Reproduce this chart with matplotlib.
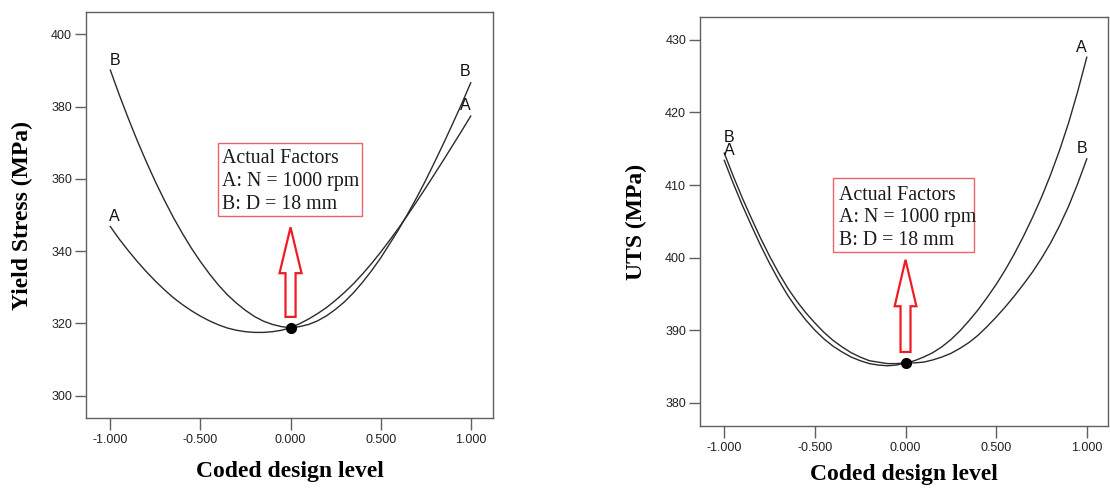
import matplotlib
matplotlib.use("Agg")
import matplotlib.pyplot as plt
from matplotlib.patches import FancyArrow, Rectangle

# ---------------- data ----------------
coded_level = [-1.00, -0.95, -0.90, -0.85, -0.80, -0.75, -0.70, -0.65, -0.60, -0.55,
               -0.50, -0.45, -0.40, -0.35, -0.30, -0.25, -0.20, -0.15, -0.10, -0.05,
               0.00, 0.05, 0.10, 0.15, 0.20, 0.25, 0.30, 0.35, 0.40, 0.45,
               0.50, 0.55, 0.60, 0.65, 0.70, 0.75, 0.80, 0.85, 0.90, 0.95, 1.00]

# Yield stress (MPa)
ys_A = [346.8, 343.3, 340.1, 337.1, 334.3, 331.7, 329.3, 327.1, 325.2, 323.5,
        322.0, 320.7, 319.6, 318.7, 318.1, 317.7, 317.5, 317.5, 317.7, 318.1,
        318.8, 319.9, 321.2, 322.7, 324.4, 326.4, 328.6, 331.0, 333.7, 336.6,
        339.7, 343.0, 346.4, 350.0, 353.7, 357.5, 361.4, 365.3, 369.3, 373.3, 377.4]
ys_B = [390.1, 383.2, 376.7, 370.5, 364.7, 359.2, 354.1, 349.3, 344.9, 340.8,
        337.1, 333.7, 330.6, 327.9, 325.6, 323.6, 321.9, 320.6, 319.7, 319.1,
        318.8, 319.1, 319.7, 320.7, 322.1, 323.9, 326.0, 328.5, 331.4, 334.6,
        338.1, 342.0, 346.0, 350.3, 354.8, 359.6, 364.7, 369.9, 375.3, 380.8, 386.6]

# UTS (MPa)
uts_A = [413.4, 410.2, 407.2, 404.4, 401.7, 399.2, 396.9, 394.8, 393.0, 391.4,
         390.0, 388.8, 387.8, 387.0, 386.3, 385.8, 385.4, 385.2, 385.1, 385.2,
         385.5, 385.8, 386.3, 386.9, 387.7, 388.7, 389.9, 391.3, 392.8, 394.5,
         396.3, 398.3, 400.5, 402.9, 405.5, 408.3, 411.4, 414.8, 418.6, 422.9, 427.6]
uts_B = [414.4, 411.2, 408.2, 405.4, 402.7, 400.2, 397.9, 395.8, 394.0, 392.4,
         391.0, 389.7, 388.6, 387.7, 386.9, 386.3, 385.8, 385.6, 385.4, 385.4,
         385.5, 385.5, 385.6, 385.9, 386.3, 386.8, 387.5, 388.3, 389.3, 390.5,
         391.8, 393.2, 394.7, 396.3, 398.0, 399.9, 402.0, 404.4, 407.1, 410.2, 413.6]

center_x = 0.0
ys_center = 318.8
uts_center = 385.5

x_ticks = [-1.0, -0.5, 0.0, 0.5, 1.0]
x_ticklabels = ["-1.000", "-0.500", "0.000", "0.500", "1.000"]
ys_ticks = [300, 320, 340, 360, 380, 400]
uts_ticks = [380, 390, 400, 410, 420, 430]

factor_text = "Actual Factors\nA: N = 1000 rpm\nB: D = 18 mm"

# ---------------- style ----------------
SERIF = ["Liberation Serif", "DejaVu Serif"]
SANS = ["Liberation Sans", "DejaVu Sans"]
LINE_C = "#2b2b2b"
FRAME_C = "#606060"
RED = "#ee1c24"
BOX_C = "#e8656a"
LBL = 11.5

fig = plt.figure(figsize=(11.10, 4.88), dpi=100)

def style_axes(ax, xlim, ylim, yticks):
    ax.set_xlim(*xlim)
    ax.set_ylim(*ylim)
    ax.set_xticks(x_ticks)
    ax.set_xticklabels(x_ticklabels)
    ax.set_yticks(yticks)
    for s in ax.spines.values():
        s.set_color(FRAME_C)
        s.set_linewidth(1.0)
    ax.tick_params(axis="both", direction="out", color=FRAME_C, width=1.0,
                   labelsize=9, labelcolor="#222222")
    ax.tick_params(axis="x", length=8.5, pad=3)
    ax.tick_params(axis="y", length=8, pad=2)
    ax.tick_params(top=False, right=False)
    for lab in ax.get_xticklabels() + ax.get_yticklabels():
        lab.set_family(SANS)

def draw_box(ax, x0, y0, x1, y1, tx, ty):
    ax.add_patch(Rectangle((x0, y0), x1 - x0, y1 - y0, transform=ax.transAxes,
                           fill=False, edgecolor=BOX_C, linewidth=1.0, zorder=4))
    ax.text(tx, ty, factor_text, transform=ax.transAxes, ha="left", va="top",
            family=SERIF, fontsize=14.3, color="#1a1a1a", linespacing=1.27, zorder=5)

def curve_label(ax, x, y, s):
    ax.text(x, y, s, family=SANS, fontsize=LBL, ha="center", va="center", color="#111111")

# ---------- left panel ----------
ax1 = fig.add_axes([0.0775, 0.1434, 0.3667, 0.832])
style_axes(ax1, (-1.135, 1.124), (293.8, 406.2), ys_ticks)
ax1.plot(coded_level, ys_A, color=LINE_C, lw=1.0)
ax1.plot(coded_level, ys_B, color=LINE_C, lw=1.0)
ax1.plot([center_x], [ys_center], "o", color="black", ms=7, zorder=6)
curve_label(ax1, coded_level[0] + 0.024, ys_B[0] + 2.8, "B")
curve_label(ax1, coded_level[0] + 0.024, ys_A[0] + 2.9, "A")
curve_label(ax1, coded_level[-1] - 0.032, ys_B[-1] + 3.0, "B")
curve_label(ax1, coded_level[-1] - 0.032, ys_A[-1] + 2.8, "A")
ax1.add_patch(FancyArrow(0.0, 321.8, 0.0, 24.8, width=0.056, head_width=0.122,
                         head_length=12.7, length_includes_head=True, fill=False,
                         edgecolor=RED, linewidth=1.6, zorder=5))
draw_box(ax1, 0.324, 0.4975, 0.678, 0.6766, 0.334, 0.662)
ax1.set_ylabel("Yield Stress (MPa)", family=SERIF, fontsize=17, fontweight="bold")
ax1.yaxis.set_label_coords(-0.130, 0.5)
ax1.set_xlabel("Coded design level", family=SERIF, fontsize=17, fontweight="bold")
ax1.xaxis.set_label_coords(0.5, -0.106)

# ---------- right panel ----------
ax2 = fig.add_axes([0.6306, 0.127, 0.3676, 0.8375])
style_axes(ax2, (-1.134, 1.117), (376.8, 433.1), uts_ticks)
ax2.plot(coded_level, uts_A, color=LINE_C, lw=1.0)
ax2.plot(coded_level, uts_B, color=LINE_C, lw=1.0)
ax2.plot([center_x], [uts_center], "o", color="black", ms=7, zorder=6)
curve_label(ax2, coded_level[0] + 0.028, uts_B[0] + 2.2, "B")
curve_label(ax2, coded_level[0] + 0.028, uts_A[0] + 1.4, "A")
curve_label(ax2, coded_level[-1] - 0.028, uts_A[-1] + 1.4, "A")
curve_label(ax2, coded_level[-1] - 0.028, uts_B[-1] + 1.4, "B")
ax2.add_patch(FancyArrow(0.0, 387.0, 0.0, 12.7, width=0.055, head_width=0.12,
                         head_length=6.4, length_includes_head=True, fill=False,
                         edgecolor=RED, linewidth=1.6, zorder=5))
draw_box(ax2, 0.3267, 0.4265, 0.6723, 0.606, 0.3414, 0.588)
ax2.set_ylabel("UTS (MPa)", family=SERIF, fontsize=17, fontweight="bold")
ax2.yaxis.set_label_coords(-0.1306, 0.5)
ax2.set_xlabel("Coded design level", family=SERIF, fontsize=17, fontweight="bold")
ax2.xaxis.set_label_coords(0.5, -0.093)

fig.savefig("out.png", dpi=100)
